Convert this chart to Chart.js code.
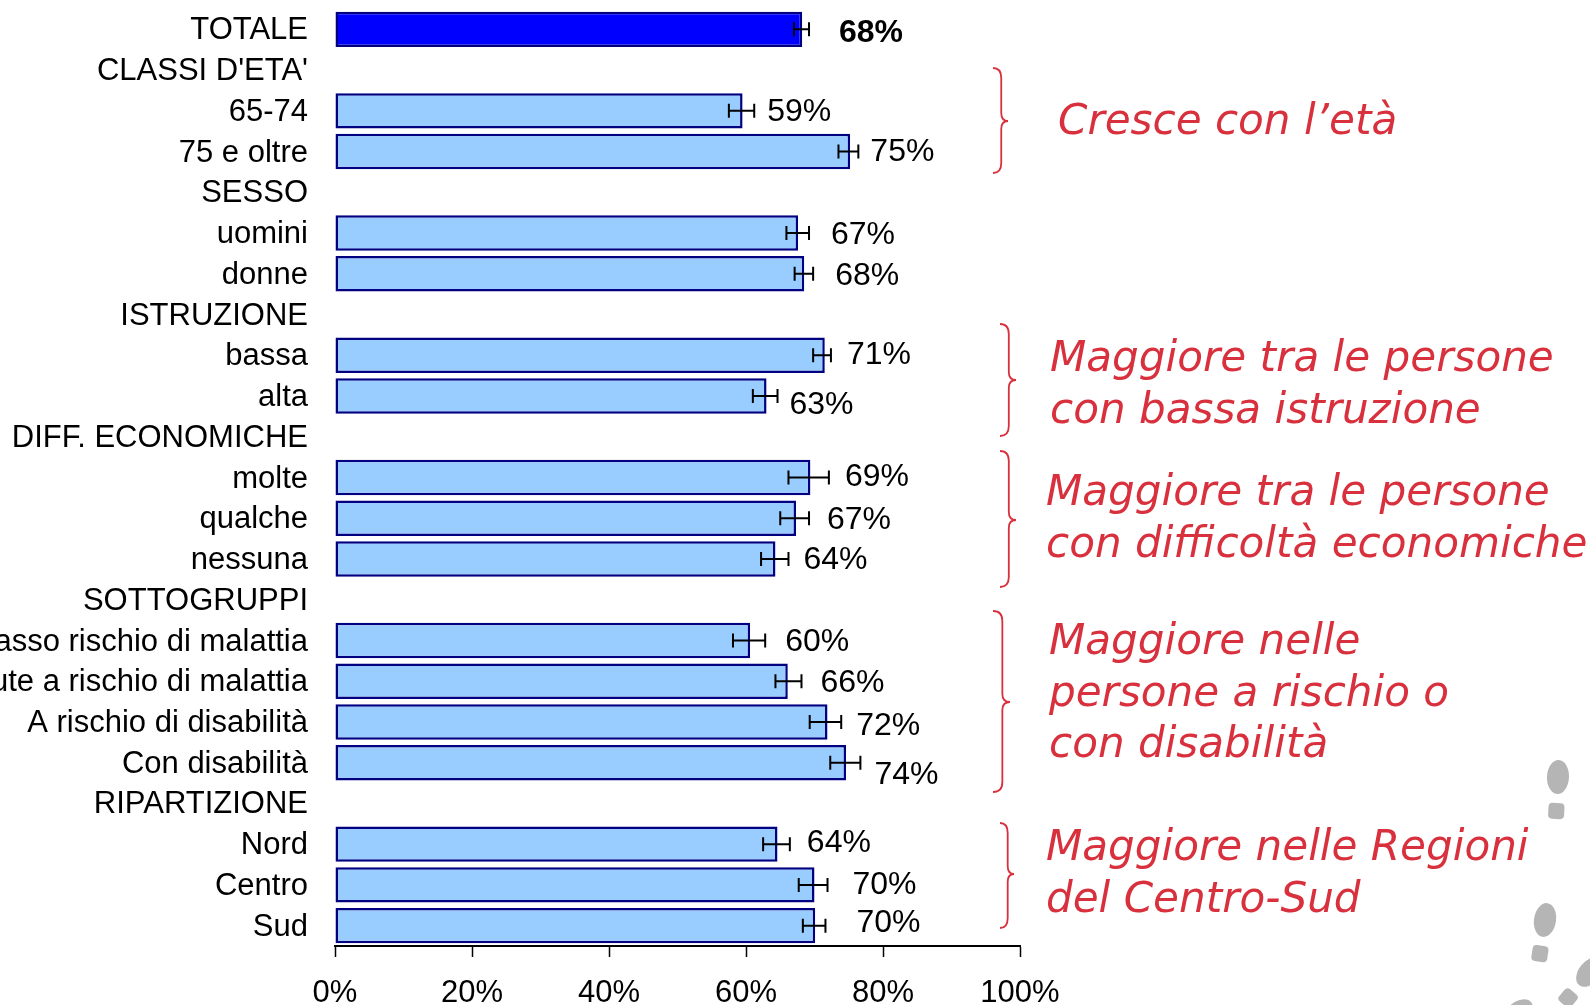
<!DOCTYPE html>
<html>
<head>
<meta charset="utf-8">
<script src="https://cdn.jsdelivr.net/npm/chart.js@4"></script>
<style>
  html, body { margin: 0; padding: 0; background: #fff; overflow: hidden; }
  canvas { display: block; }
</style>
</head>
<body>
<canvas id="myChart" width="1590" height="1005"></canvas>
<script>
var categories = ["TOTALE", "CLASSI D'ETA'", "65-74", "75 e oltre", "SESSO", "uomini", "donne",
  "ISTRUZIONE", "bassa", "alta", "DIFF. ECONOMICHE", "molte", "qualche", "nessuna",
  "SOTTOGRUPPI", "Basso rischio di malattia", "Salute a rischio di malattia",
  "A rischio di disabilità", "Con disabilità", "RIPARTIZIONE", "Nord", "Centro", "Sud"];
var values = [68.2, null, 59.5, 75.2, null, 67.6, 68.5, null, 71.5, 63.0, null, 69.4, 67.3, 64.3,
  null, 60.6, 66.1, 71.9, 74.6, null, 64.6, 70.0, 70.1];
var ciLow = [67.0, null, 57.5, 73.5, null, 65.9, 67.1, null, 69.8, 61.0, null, 66.2, 65.0, 62.2,
  null, 58.1, 64.3, 69.3, 72.3, null, 62.5, 67.7, 68.3];
var ciHigh = [69.2, null, 61.2, 76.4, null, 69.2, 69.8, null, 72.4, 64.6, null, 72.1, 69.2, 66.2,
  null, 62.8, 68.1, 73.9, 76.7, null, 66.4, 71.9, 71.6];
var valueLabels = ["68%", "", "59%", "75%", "", "67%", "68%", "", "71%", "63%", "", "69%", "67%", "64%",
  "", "60%", "66%", "72%", "74%", "", "64%", "70%", "70%"];
var xTicks = [0, 20, 40, 60, 80, 100];

// label nudges in px, relative to the whisker end and row centre
var labelGap = [30, 0, 13, 12, 0, 22, 22, 0, 16, 12, 0, 16, 18, 15, 0, 20, 19, 15, 14, 0, 17, 25, 31];
var labelDy = [4, 0, 1, 1, 0, 2, 2, 0, 0, 9, 0, 0, 2, 1, 0, 2, 2, 4, 12, 0, -1, 0, -2];

var notes = ["Cresce con l’età", "Maggiore tra le persone", "con bassa istruzione",
  "Maggiore tra le persone", "con difficoltà economiche", "Maggiore nelle",
  "persone a rischio o", "con disabilità", "Maggiore nelle Regioni", "del Centro-Sud"];
var notePos = [[1058, 123], [1050, 360], [1050, 412], [1046, 494], [1046, 546],
  [1049, 643], [1049, 695], [1049, 746], [1046, 849], [1046, 901]];
// x start, y top, y tip, y bottom, width
var braces = [[993, 68, 121, 173, 15], [1000, 324, 380, 436, 16], [1000, 451, 520, 587, 16],
  [993, 611, 702, 792, 17], [1000, 823, 874, 928, 14]];

var RED = "#d8303c";

function drawBrace(ctx, b) {
  var x = b[0], top = b[1], tip = b[2], bot = b[3], w = b[4], stem = x + w * 0.55, r = 8;
  ctx.beginPath();
  ctx.moveTo(x, top);
  ctx.quadraticCurveTo(stem, top, stem, top + r + 2);
  ctx.lineTo(stem, tip - r);
  ctx.quadraticCurveTo(stem, tip, x + w, tip);
  ctx.quadraticCurveTo(stem, tip, stem, tip + r);
  ctx.lineTo(stem, bot - r - 2);
  ctx.quadraticCurveTo(stem, bot, x, bot);
  ctx.stroke();
}

function footprint(ctx, x, y, angle) {
  ctx.save();
  ctx.translate(x, y);
  ctx.rotate(angle);
  ctx.fillStyle = "#b5b5b5";
  ctx.beginPath();
  ctx.ellipse(0, 0, 11, 17, 0, 0, Math.PI * 2);
  ctx.fill();
  ctx.beginPath();
  ctx.roundRect(-8, 26, 16, 16, 4);
  ctx.fill();
  ctx.restore();
}

var extras = {
  id: "extras",
  afterDatasetsDraw: function (chart) {
    var ctx = chart.ctx, xs = chart.scales.x, ys = chart.scales.y;
    ctx.save();

    // error bars
    ctx.strokeStyle = "#000";
    ctx.lineWidth = 2;
    values.forEach(function (v, i) {
      if (v === null) return;
      var y = ys.getPixelForValue(i), a = xs.getPixelForValue(ciLow[i]), b = xs.getPixelForValue(ciHigh[i]);
      ctx.beginPath();
      ctx.moveTo(a, y); ctx.lineTo(b, y);
      ctx.moveTo(a, y - 7); ctx.lineTo(a, y + 7);
      ctx.moveTo(b, y - 7); ctx.lineTo(b, y + 7);
      ctx.stroke();
    });

    // value labels
    ctx.fillStyle = "#000";
    ctx.textAlign = "left";
    ctx.textBaseline = "middle";
    valueLabels.forEach(function (t, i) {
      if (!t) return;
      ctx.font = (i === 0 ? "bold " : "") + "32px 'Liberation Sans'";
      ctx.fillText(t, xs.getPixelForValue(ciHigh[i]) + labelGap[i], ys.getPixelForValue(i) + labelDy[i]);
    });

    // comments on the right
    ctx.fillStyle = RED;
    ctx.font = "italic 42.1px 'DejaVu Sans'";
    notes.forEach(function (t, i) {
      ctx.fillText(t, notePos[i][0], notePos[i][1]);
    });
    ctx.strokeStyle = RED;
    ctx.lineWidth = 1.8;
    braces.forEach(function (b) { drawBrace(ctx, b); });

    // footprints
    footprint(ctx, 1558, 777, 0.05);
    footprint(ctx, 1545, 920, 0.15);
    footprint(ctx, 1590, 972, 0.7);
    footprint(ctx, 1518, 1013, 0.9);
    ctx.restore();
  }
};

new Chart("myChart", {
  type: "bar",
  data: {
    labels: categories,
    datasets: [{
      data: values,
      backgroundColor: values.map(function (v, i) { return i === 0 ? "#0000ff" : "#99ccff"; }),
      borderColor: "#000080",
      borderWidth: 2.5,
      borderSkipped: false,
      barPercentage: 0.87,
      categoryPercentage: 1
    }]
  },
  options: {
    indexAxis: "y",
    responsive: false,
    animation: false,
    layout: { padding: { top: 9, right: 570, left: 0, bottom: 0 } },
    plugins: { legend: { display: false }, tooltip: { enabled: false } },
    scales: {
      x: {
        min: 0,
        max: 100,
        afterFit: function (s) { s.height = 59; s.paddingLeft = 0; s.paddingRight = 0; },
        afterBuildTicks: function (s) { s.ticks = xTicks.map(function (v) { return { value: v }; }); },
        border: { color: "#000", width: 2 },
        grid: { drawOnChartArea: false, drawTicks: true, tickLength: 11, tickColor: "#000", tickWidth: 1.5 },
        ticks: {
          color: "#000",
          padding: 18,
          maxRotation: 0,
          font: { family: "'Liberation Sans'", size: 31 },
          callback: function (v) { return v + "%"; }
        }
      },
      y: {
        afterFit: function (s) { s.width = 335; s.paddingTop = 0; s.paddingBottom = 0; },
        border: { display: false },
        grid: { display: false },
        ticks: {
          color: "#000",
          padding: 19,
          labelOffset: 1.5,
          autoSkip: false,
          font: { family: "'Liberation Sans'", size: 31 }
        }
      }
    }
  },
  plugins: [extras]
});
</script>
</body>
</html>
